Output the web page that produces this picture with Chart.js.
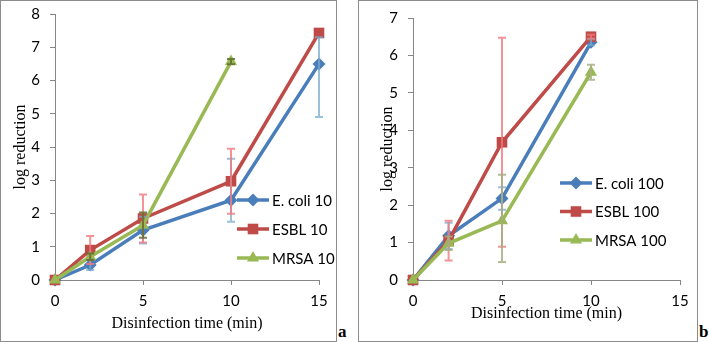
<!DOCTYPE html>
<html>
<head>
<meta charset="utf-8">
<script src="https://cdn.jsdelivr.net/npm/chart.js@4"></script>
<style>
  body { margin: 0; background: #fff; width: 709px; height: 342px; position: relative; overflow: hidden; }
  .frame { position: absolute; top: 0; height: 342px; box-sizing: border-box; border: 1px solid #8c8c8c; }
  .cv { position: absolute; top: 0; }
  .tag { position: absolute; font: bold 17px "Liberation Serif", serif; color: #000; }
</style>
</head>
<body>
<div class="frame" style="left:0; width:337px;"></div>
<div class="frame" style="left:358px; width:340px;"></div>
<div class="cv" style="left:0; width:337px; height:342px;"><canvas id="chartA"></canvas></div>
<div class="cv" style="left:359px; width:339px; height:342px;"><canvas id="chartB"></canvas></div>
<div class="tag" style="left:338px; top:322px;">a</div>
<div class="tag" style="left:699px; top:322px;">b</div>
<script>
// time points (min)
const timeA = [0, 2, 5, 10, 15];
const timeB = [0, 2, 5, 10];

// panel a: 10 (log reduction)
const ecoli10 = [0, 0.45, 1.5, 2.4, 6.5];
const esbl10 = [0, 0.9, 1.85, 2.97, 7.43];
const mrsa10 = [0, 0.7, 1.65, 6.57];
const ecoli10Err = [0, 0.15, 0.4, 0.65, 1.6];
const ecoli10ErrUp = [0, 0.15, 0.4, 1.25, 0.8];
const esbl10Err = [0, 0.42, 0.72, 0.98, 0];
const mrsa10Err = [0, 0.1, 0.38, 0.08];

// panel b: 100
const ecoli100 = [0, 1.18, 2.18, 6.35];
const esbl100 = [0, 1.05, 3.68, 6.5];
const mrsa100 = [0, 0.98, 1.58, 5.55];
const ecoli100Err = [0, 0.35, 0.3, 0.08];
const esbl100Err = [0, 0.53, 2.79, 0.05];
const mrsa100Err = [0, 0.18, 1.1, 0.2];
const mrsa100ErrUp = [0, 0.18, 1.23, 0.2];

const BLUE = '#4a7ebb', RED = '#be4b48', GREEN = '#98b954';
const AXIS = '#868686';

function pts(xs, ys) {
    return ys.map((y, i) => ({ x: xs[i], y: y }));
}

function series(label, xs, ys, err, errUp, color, errColor, style, radius, order) {
    return {
        label: label,
        data: pts(xs, ys),
        err: err,
        errUp: errUp || err,
        errColor: errColor,
        borderColor: color,
        backgroundColor: color,
        borderWidth: 3.5,
        pointStyle: style,
        pointRadius: radius,
        pointBorderWidth: 0,
        pointBackgroundColor: color,
        order: order,
        clip: false
    };
}

// draws vertical error bars with caps
const errorBars = {
    id: 'errorBars',
    afterDatasetsDraw(chart) {
        const ctx = chart.ctx;
        const yScale = chart.scales.y;
        chart.data.datasets.forEach((ds, di) => {
            const meta = chart.getDatasetMeta(di);
            ctx.save();
            ctx.strokeStyle = ds.errColor;
            ctx.lineWidth = 2;
            meta.data.forEach((pt, i) => {
                const lo = ds.err[i], hi = ds.errUp[i];
                if (!lo && !hi) return;
                const v = ds.data[i].y;
                const top = yScale.getPixelForValue(v + hi);
                const bot = yScale.getPixelForValue(v - lo);
                ctx.beginPath();
                ctx.moveTo(pt.x, top); ctx.lineTo(pt.x, bot);
                ctx.moveTo(pt.x - 4, top); ctx.lineTo(pt.x + 4, top);
                ctx.moveTo(pt.x - 4, bot); ctx.lineTo(pt.x + 4, bot);
                ctx.stroke();
            });
            ctx.restore();
        });
    }
};

// legend drawn inside the plot area
const innerLegend = {
    id: 'innerLegend',
    afterDraw(chart, args, opts) {
        const ctx = chart.ctx;
        ctx.save();
        chart.data.datasets.forEach((ds, i) => {
            const y = opts.y + i * opts.dy;
            ctx.strokeStyle = ds.borderColor;
            ctx.lineWidth = 3.5;
            ctx.beginPath();
            ctx.moveTo(opts.x, y);
            ctx.lineTo(opts.x + opts.len, y);
            ctx.stroke();
            ctx.fillStyle = ds.borderColor;
            Chart.helpers.drawPoint(ctx, { pointStyle: ds.pointStyle, radius: ds.pointRadius, borderWidth: 0 }, opts.x + opts.len / 2, y);
            ctx.fillStyle = '#000';
            ctx.font = opts.font;
            ctx.textBaseline = 'middle';
            ctx.fillText(ds.label, opts.x + opts.len + 3, y + 1);
        });
        ctx.restore();
    }
};

function makeChart(id, datasets, yMax, pad, yTitlePad, xTitlePad, legend) {
    return new Chart(document.getElementById(id), {
        type: 'line',
        data: { datasets: datasets },
        plugins: [errorBars, innerLegend],
        options: {
            responsive: true,
            maintainAspectRatio: false,
            animation: false,
            layout: { padding: pad },
            plugins: {
                legend: { display: false },
                tooltip: { enabled: false },
                innerLegend: legend
            },
            scales: {
                x: {
                    type: 'linear',
                    min: 0,
                    max: 15,
                    afterFit: s => { s.height = 62; s.paddingLeft = 0; s.paddingRight = 0; },
                    ticks: { stepSize: 5, padding: 7, color: '#000', font: { family: 'Lato', size: 15 } },
                    grid: { drawOnChartArea: false, tickLength: 5, color: AXIS },
                    border: { color: AXIS, width: 1 },
                    title: { display: true, text: 'Disinfection time (min)', color: '#000',
                        font: { family: 'Liberation Serif', size: 16 }, padding: { bottom: xTitlePad, top: 0 } }
                },
                y: {
                    min: 0,
                    max: yMax,
                    afterFit: s => { s.width = 54; s.paddingTop = 0; s.paddingBottom = 0; },
                    ticks: { stepSize: 1, padding: 10, color: '#000', font: { family: 'Lato', size: 15 } },
                    grid: { drawOnChartArea: false, tickLength: 5, color: AXIS },
                    border: { color: AXIS, width: 1 },
                    title: { display: true, text: 'log reduction', color: '#000',
                        font: { family: 'Liberation Serif', size: 16 }, padding: { top: yTitlePad, bottom: 0 } }
                }
            }
        }
    });
}

makeChart('chartA', [
    series('E. coli 10', timeA, ecoli10, ecoli10Err, ecoli10ErrUp, BLUE, 'rgba(120,170,205,0.75)', 'rectRot', 6.5, 2),
    series('ESBL 10', timeA, esbl10, esbl10Err, null, RED, 'rgba(240,120,125,0.8)', 'rect', 7.5, 1),
    series('MRSA 10', timeA, mrsa10, mrsa10Err, null, GREEN, 'rgba(95,110,45,0.85)', 'triangle', 7, 0)
], 8, { top: 14, right: 18, left: 1, bottom: 0 }, 10, 9,
    { x: 237, y: 200, dy: 29, len: 32, font: '15px Lato' });

makeChart('chartB', [
    series('E. coli 100', timeB, ecoli100, ecoli100Err, null, BLUE, 'rgba(120,170,205,0.75)', 'rectRot', 6.5, 2),
    series('ESBL 100', timeB, esbl100, esbl100Err, null, RED, 'rgba(240,120,125,0.8)', 'rect', 7.5, 1),
    series('MRSA 100', timeB, mrsa100, mrsa100Err, mrsa100ErrUp, GREEN, 'rgba(165,175,130,0.85)', 'triangle', 7, 0)
], 7, { top: 18, right: 18, left: 0, bottom: 0 }, 19, 19,
    { x: 201, y: 183, dy: 28.5, len: 32, font: '15px Lato' });
</script>
</body>
</html>
